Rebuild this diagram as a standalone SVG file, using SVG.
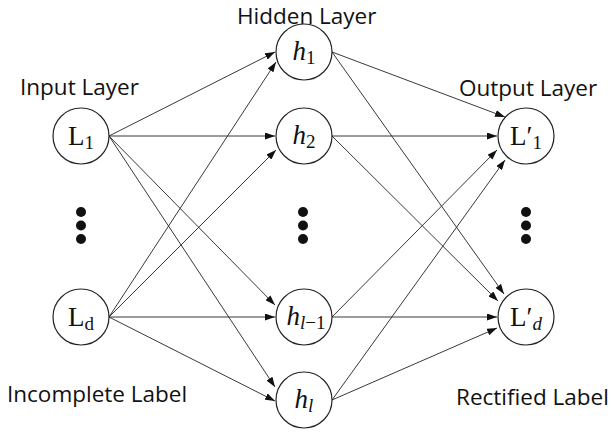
<svg xmlns="http://www.w3.org/2000/svg" width="613" height="433" viewBox="0 0 613 433">
  <defs>
    <marker id="arrow" viewBox="0 0 10 7" refX="10" refY="3.5" markerWidth="10" markerHeight="7" markerUnits="userSpaceOnUse" orient="auto">
      <path d="M0,0 L10,3.5 L0,7 Z" fill="#111"/>
    </marker>
    <style>
      .node circle { fill: #fff; stroke: #222; stroke-width: 1.2; }
      .math { font-family: "Liberation Serif", "DejaVu Serif", serif; font-size: 27px; fill: #111; text-anchor: middle; }
      .sub { font-size: 19px; }
      .it { font-style: italic; }
      .label { font-family: "Open Sans", "Liberation Sans", sans-serif; font-size: 22.5px; fill: #111; }
      #connectors line { stroke: #222; stroke-width: 0.9; marker-end: url(#arrow); }
      .dots circle { fill: #111; }
    </style>
  </defs>

  <rect width="613" height="433" fill="#fff"/>

  <!-- layer captions -->
  <text class="label" x="237" y="24">Hidden Layer</text>
  <text class="label" x="20" y="95">Input Layer</text>
  <text class="label" x="459" y="96">Output Layer</text>
  <text class="label" x="7" y="402">Incomplete Label</text>
  <text class="label" x="456" y="405">Rectified Label</text>

  <!-- connectors -->
  <g id="connectors">
    <!-- input to hidden -->
    <line x1="109" y1="136" x2="275" y2="52"/>
    <line x1="109" y1="136" x2="275" y2="136"/>
    <line x1="109" y1="136" x2="275" y2="305"/>
    <line x1="109" y1="136" x2="275" y2="387"/>
    <line x1="109" y1="317" x2="276" y2="62"/>
    <line x1="109" y1="317" x2="276" y2="150"/>
    <line x1="109" y1="317" x2="275" y2="317"/>
    <line x1="109" y1="317" x2="275" y2="401"/>
    <!-- hidden to output -->
    <line x1="332" y1="52" x2="505" y2="117"/>
    <line x1="332" y1="52" x2="504" y2="294"/>
    <line x1="332" y1="136" x2="497" y2="136"/>
    <line x1="332" y1="136" x2="498" y2="301"/>
    <line x1="332" y1="317" x2="497" y2="150"/>
    <line x1="332" y1="317" x2="497" y2="317"/>
    <line x1="332" y1="400" x2="505" y2="160"/>
    <line x1="332" y1="400" x2="497" y2="328"/>
  </g>

  <!-- input nodes -->
  <g id="node-L1" class="node">
    <circle cx="81" cy="136" r="28"/>
    <text class="math" x="81" y="145">L<tspan class="sub" dy="4">1</tspan></text>
  </g>
  <g id="node-Ld" class="node">
    <circle cx="81" cy="317" r="28"/>
    <text class="math" x="81" y="326">L<tspan class="sub" dy="4">d</tspan></text>
  </g>

  <!-- hidden nodes -->
  <g id="node-h1" class="node">
    <circle cx="304" cy="52" r="28"/>
    <text class="math" x="304" y="60"><tspan class="it">h</tspan><tspan class="sub" dy="4">1</tspan></text>
  </g>
  <g id="node-h2" class="node">
    <circle cx="304" cy="136" r="28"/>
    <text class="math" x="304" y="144"><tspan class="it">h</tspan><tspan class="sub" dy="4">2</tspan></text>
  </g>
  <g id="node-hl-1" class="node">
    <circle cx="304" cy="317" r="28"/>
    <text class="math" x="306" y="325"><tspan class="it">h</tspan><tspan class="sub it" dy="4">l</tspan><tspan class="sub">−1</tspan></text>
  </g>
  <g id="node-hl" class="node">
    <circle cx="304" cy="400" r="28"/>
    <text class="math" x="304" y="408"><tspan class="it">h</tspan><tspan class="sub it" dy="4">l</tspan></text>
  </g>

  <!-- output nodes -->
  <g id="node-Lp1" class="node">
    <circle cx="526" cy="136" r="28"/>
    <text class="math" x="526" y="145">L′<tspan class="sub" dy="4">1</tspan></text>
  </g>
  <g id="node-Lpd" class="node">
    <circle cx="526" cy="317" r="28"/>
    <text class="math" x="526" y="326">L′<tspan class="sub it" dy="4">d</tspan></text>
  </g>

  <!-- ellipsis dots -->
  <g class="dots">
    <circle cx="81" cy="212" r="5"/>
    <circle cx="81" cy="225.5" r="5"/>
    <circle cx="81" cy="239" r="5"/>
    <circle cx="303" cy="212" r="5"/>
    <circle cx="303" cy="225.5" r="5"/>
    <circle cx="303" cy="239" r="5"/>
    <circle cx="526" cy="212" r="5"/>
    <circle cx="526" cy="225.5" r="5"/>
    <circle cx="526" cy="239" r="5"/>
  </g>
</svg>
